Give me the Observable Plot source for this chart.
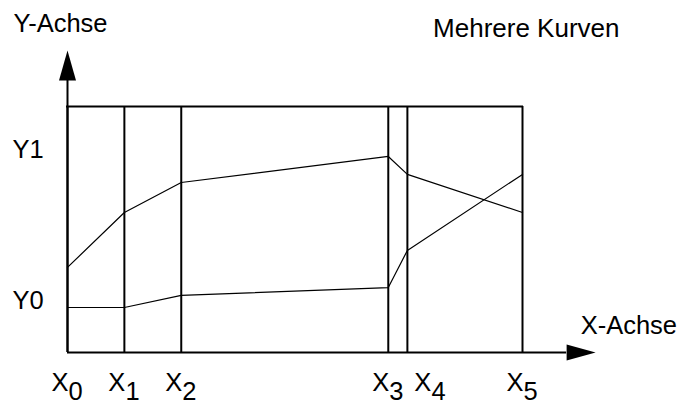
<!DOCTYPE html>
<html>
<head>
<meta charset="utf-8">
<script src="https://cdn.jsdelivr.net/npm/d3@7"></script>
<script src="https://cdn.jsdelivr.net/npm/@observablehq/plot@0.6"></script>
<style>
  html, body { margin: 0; padding: 0; background: #fff; }
  svg { display: block; }
</style>
</head>
<body>
<div id="chart"></div>
<script>
// ---- data ----
const xSubscripts = ["0", "1", "2", "3", "4", "5"];
const xPositions  = [0, 1.25, 2.5, 7.05, 7.47, 10];
const curveUpper  = [3.46, 5.69, 6.91, 7.97, 7.24, 5.69];
const curveLower  = [1.83, 1.83, 2.32, 2.64, 4.15, 7.24];
const yTickNames  = ["Y0", "Y1"];
const yTickValues = [1.83, 7.97];
const frameTop    = 10;      // top edge of the box
const xAxisEnd    = 10.97;   // where the x arrow head starts
const yAxisEnd    = 11.06;   // where the y arrow head starts
const chartTitle  = "Mehrere Kurven";
const xAxisTitle  = "X-Achse";
const yAxisTitle  = "Y-Achse";

const points = (ys) => xPositions.map((x, i) => ({x, y: ys[i]}));
const curves = [points(curveUpper), points(curveLower)];
const xTicks = xPositions.map((x, i) => ({x, sub: xSubscripts[i], i}));
const yTicks = yTickValues.map((y, i) => ({y, name: yTickNames[i]}));

const FONT = "'Liberation Sans', Arial, Helvetica, sans-serif";
const FS = 25.5;

function triangle(halfWidth) {
  return {
    draw(context, l) {
      context.moveTo(-halfWidth, 0);
      context.lineTo(0, -l);
      context.lineTo(halfWidth, 0);
      context.closePath();
    }
  };
}

// the X4 label sits to the right of its line so it does not collide with X3
const crowded = (d) => d.i === 4;
function xLabel(data, shift) {
  return [
    Plot.text(data, {x: "x", y: 0, text: () => "X", textAnchor: "end", lineAnchor: "bottom", dx: 1 + shift, dy: 38, fill: "black"}),
    Plot.text(data, {x: "x", y: 0, text: "sub", textAnchor: "start", lineAnchor: "bottom", dx: 1 + shift, dy: 47, fill: "black"})
  ];
}

const chart = Plot.plot({
  width: 688,
  height: 401,
  marginLeft: 67,
  marginRight: 166,
  marginTop: 106,
  marginBottom: 49,
  x: {domain: [0, 10], axis: null},
  y: {domain: [0, 10], axis: null},
  style: {fontFamily: FONT, fontSize: FS + "px", color: "black", background: "white", overflow: "visible"},
  marks: [
    // vertical lines at the X positions
    Plot.ruleX(xPositions, {x: d => d, y1: 0, y2: frameTop, stroke: "black", strokeWidth: 2}),
    // top edge of the box
    Plot.ruleY([frameTop], {x1: xPositions[0], x2: xPositions[xPositions.length - 1], stroke: "black", strokeWidth: 2, strokeLinecap: "square"}),
    // x axis
    Plot.ruleY([0], {x1: xPositions[0], x2: xAxisEnd, stroke: "black", strokeWidth: 2}),
    // y axis
    Plot.ruleX([xPositions[0]], {y1: 0, y2: yAxisEnd, stroke: "black", strokeWidth: 2}),
    // arrow heads
    Plot.vector([{x: xAxisEnd, y: 0}], {x: "x", y: "y", length: 29, rotate: 90, anchor: "start", shape: triangle(8), fill: "black", stroke: "none"}),
    Plot.vector([{x: xPositions[0], y: yAxisEnd}], {x: "x", y: "y", length: 30, rotate: 0, anchor: "start", shape: triangle(8.5), fill: "black", stroke: "none"}),
    // curves
    ...curves.map(c => Plot.line(c, {x: "x", y: "y", stroke: "black", strokeWidth: 1.2})),
    // X tick labels (X + same-size lowered subscript)
    ...xLabel(xTicks.filter(d => !crowded(d)), 0),
    ...xLabel(xTicks.filter(crowded), 23),
    // Y tick labels
    Plot.text(yTicks, {x: xPositions[0], y: "y", text: "name", textAnchor: "start", lineAnchor: "bottom", dx: -55, dy: 2, fill: "black"}),
    // axis titles
    Plot.text([yAxisTitle], {x: xPositions[0], y: yAxisEnd, text: d => d, textAnchor: "middle", lineAnchor: "bottom", dx: -7, dy: -48, fill: "black"}),
    Plot.text([xAxisTitle], {x: xAxisEnd, y: 0, text: d => d, textAnchor: "start", lineAnchor: "bottom", dx: 14, dy: -19, fill: "black"}),
    // chart title
    Plot.text([chartTitle], {x: xPositions[xPositions.length - 1], y: frameTop, text: d => d, textAnchor: "end", lineAnchor: "bottom", dx: 97, dy: -70, fill: "black", fontSize: 26})
  ]
});

document.getElementById("chart").appendChild(chart);
</script>
</body>
</html>
